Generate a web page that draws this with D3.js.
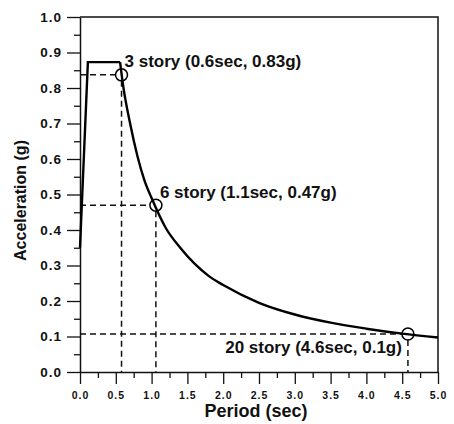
<!DOCTYPE html>
<html>
<head>
    <meta charset="utf-8">
    <style>
        body { margin: 0; background: #fff; }
        svg { font-family: "Liberation Sans", Arial, sans-serif; }
        .tick text { font-weight: bold; fill: #111; }
        .domain, .tick line { stroke: #111; }
        path.spectrum { fill: none; stroke: #000; stroke-width: 2.4px; }
        line.guide { stroke: #111; stroke-width: 1.5px; stroke-dasharray: 6,4; }
        circle.story { fill: none; stroke: #000; stroke-width: 1.5px; }
        text.note { font-size: 17px; font-weight: bold; fill: #111; }
        text.title { font-size: 16px; font-weight: bold; fill: #111; }
    </style>
</head>
<body>
<div id="chart"></div>
<script src="https://cdn.jsdelivr.net/npm/d3@7"></script>
<script>

    // design spectrum: ramp + plateau, then the 1/T branch
    var rampPeriod = [0.0, 0.11, 0.56];
    var rampAccel = [0.35, 0.873, 0.873];

    var decayPeriod = [0.56, 0.6, 0.7, 0.8, 0.9, 1.0, 1.2, 1.4, 1.6, 1.8, 2.0, 2.5, 3.0, 3.5, 4.0, 4.5, 5.0];
    var decayAccel = [0.873, 0.81, 0.70, 0.61, 0.54, 0.49, 0.405, 0.35, 0.305, 0.27, 0.245, 0.195, 0.162, 0.139, 0.122, 0.108, 0.097];

    // building markers
    var storyPeriod = [0.58, 1.06, 4.58];
    var storyAccel = [0.837, 0.47, 0.107];
    var storyLabels = ["3 story (0.6sec, 0.83g)", "6 story (1.1sec, 0.47g)", "20 story (4.6sec, 0.1g)"];

    var xTicks = [0, 0.5, 1, 1.5, 2, 2.5, 3, 3.5, 4, 4.5, 5];
    var yTicks = [0, 0.1, 0.2, 0.3, 0.4, 0.5, 0.6, 0.7, 0.8, 0.9, 1.0];

    var width = 454, height = 424;
    var margin = {top: 17, right: 16, bottom: 52, left: 80};
    var w = width - margin.left - margin.right;
    var h = height - margin.top - margin.bottom;

    var svg = d3.select("#chart").append("svg")
        .attr("width", width)
        .attr("height", height);

    var g = svg.append("g")
        .attr("transform", "translate(" + margin.left + "," + margin.top + ")");

    var x = d3.scaleLinear().domain([0, 5]).range([0, w]);
    var y = d3.scaleLinear().domain([0, 1]).range([h, 0]);

    // minor ticks first so majors sit over them
    g.append("g")
        .attr("transform", "translate(0," + h + ")")
        .call(d3.axisBottom(x).tickValues(d3.range(0.25, 5, 0.5)).tickSize(6).tickFormat(""))
        .call(function (s) { s.select(".domain").remove(); });
    g.append("g")
        .call(d3.axisLeft(y).tickValues(d3.range(0.05, 1, 0.1)).tickSize(6).tickFormat(""))
        .call(function (s) { s.select(".domain").remove(); });

    var xAxis = g.append("g")
        .attr("transform", "translate(0," + h + ")")
        .call(d3.axisBottom(x).tickValues(xTicks).tickSize(12).tickSizeOuter(0).tickPadding(8)
            .tickFormat(d3.format(".1f")));
    xAxis.selectAll("text").style("font-size", "10.5px").style("letter-spacing", "1px");

    var yAxis = g.append("g")
        .call(d3.axisLeft(y).tickValues(yTicks).tickSize(13).tickSizeOuter(0).tickPadding(5)
            .tickFormat(d3.format(".1f")));
    yAxis.selectAll("text").style("font-size", "13.5px").style("letter-spacing", "1px");

    g.selectAll(".domain").style("stroke-width", "1.5px");
    g.selectAll(".tick line").style("stroke-width", "1.3px");

    // top and right frame
    g.append("path")
        .attr("d", "M0," + y(1) + "H" + x(5) + "V" + y(0))
        .attr("fill", "none")
        .attr("stroke", "#111")
        .attr("stroke-width", 1.5);

    // dashed guides to the axes
    storyPeriod.forEach(function (p, i) {
        g.append("line").attr("class", "guide")
            .attr("x1", x(0)).attr("x2", x(p) - 6)
            .attr("y1", y(storyAccel[i])).attr("y2", y(storyAccel[i]));
        g.append("line").attr("class", "guide")
            .attr("x1", x(p)).attr("x2", x(p))
            .attr("y1", y(storyAccel[i]) + 6).attr("y2", y(0));
    });

    var line = d3.line()
        .x(function (d) { return x(d[0]); })
        .y(function (d) { return y(d[1]); });

    g.append("path").attr("class", "spectrum")
        .attr("d", line(d3.zip(rampPeriod, rampAccel)));
    g.append("path").attr("class", "spectrum")
        .attr("d", line.curve(d3.curveMonotoneX)(d3.zip(decayPeriod, decayAccel)));

    g.selectAll("circle.story")
        .data(storyPeriod)
        .enter().append("circle")
        .attr("class", "story")
        .attr("cx", function (d) { return x(d); })
        .attr("cy", function (d, i) { return y(storyAccel[i]); })
        .attr("r", 6);

    var offsets = [[3, -8, "start"], [4, -7, "start"], [-6, 19, "end"]];
    g.selectAll("text.note")
        .data(storyLabels)
        .enter().append("text")
        .attr("class", "note")
        .attr("x", function (d, i) { return x(storyPeriod[i]) + offsets[i][0]; })
        .attr("y", function (d, i) { return y(storyAccel[i]) + offsets[i][1]; })
        .attr("text-anchor", function (d, i) { return offsets[i][2]; })
        .text(function (d) { return d; });

    svg.append("text").attr("class", "title")
        .attr("x", 256)
        .attr("y", height - 7)
        .attr("text-anchor", "middle")
        .style("font-size", "18px")
        .text("Period (sec)");

    svg.append("text").attr("class", "title")
        .attr("transform", "translate(26," + (margin.top + h / 2 + 6) + ") rotate(-90)")
        .attr("text-anchor", "middle")
        .text("Acceleration (g)");

</script>
</body>
</html>
